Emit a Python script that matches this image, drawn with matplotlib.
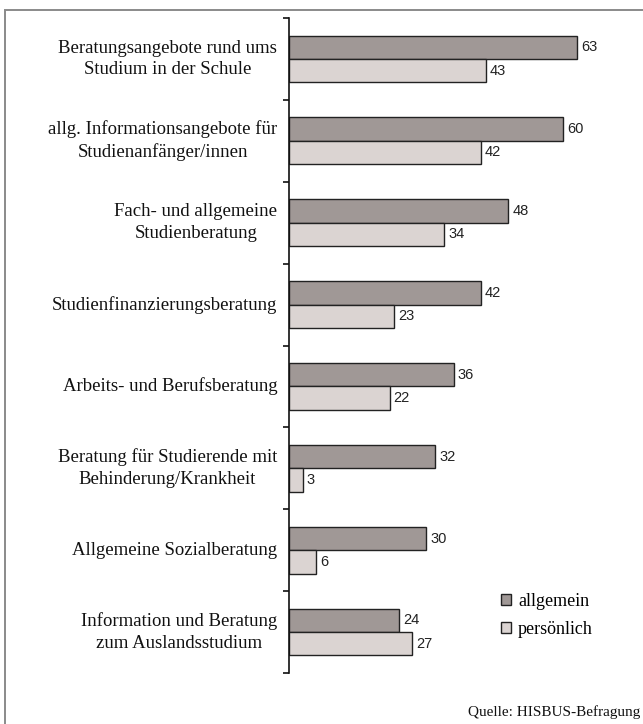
import matplotlib
matplotlib.use("Agg")
import matplotlib.pyplot as plt
from matplotlib.patches import Rectangle, Patch
import numpy as np

categories = [
    "Beratungsangebote rund ums\nStudium in der Schule",
    "allg. Informationsangebote für\nStudienanfänger/innen",
    "Fach- und allgemeine\nStudienberatung",
    "Studienfinanzierungsberatung",
    "Arbeits- und Berufsberatung",
    "Beratung für Studierende mit\nBehinderung/Krankheit",
    "Allgemeine Sozialberatung",
    "Information und Beratung\nzum Auslandsstudium",
]
allgemein = [63, 60, 48, 42, 36, 32, 30, 24]
persoenlich = [43, 42, 34, 23, 22, 3, 6, 27]
series_names = ["allgemein", "persönlich"]
source_text = "Quelle: HISBUS-Befragung"

W, H = 643, 724
fig = plt.figure(figsize=(W / 100, H / 100), dpi=100)
fig.patch.set_facecolor("white")

# outer frame (left/top visible, right/bottom cut)
fig.add_artist(Rectangle((4.5 / W, -0.05), 1.2, 1 - 9.5 / H + 0.05,
                         transform=fig.transFigure, fill=False,
                         edgecolor="#8a8a8a", linewidth=1.4))

ax_left, ax_top, ax_bottom = 289 / W, 18 / H, 673 / H
ax = fig.add_axes([ax_left, 1 - ax_bottom, 1 - ax_left, ax_bottom - ax_top])
px_per_unit = 4.57
ax.set_xlim(0, (W - 289) / px_per_unit)
n = len(categories)
ax.set_ylim(n - 0.5, -0.5)

dark = "#a09896"
light = "#dbd4d2"
bh = 0.285
y = np.arange(n)
ax.barh(y - bh / 2, allgemein, height=bh, color=dark, edgecolor="#222222", linewidth=1.0)
ax.barh(y + bh / 2, persoenlich, height=bh, color=light, edgecolor="#222222", linewidth=1.0)

for yi, v in zip(y, allgemein):
    ax.annotate(str(v), (v, yi - bh / 2), xytext=(3, 0), textcoords="offset points",
                va="center", ha="left", fontsize=10.5, family="Liberation Sans", color="#222222")
for yi, v in zip(y, persoenlich):
    ax.annotate(str(v), (v, yi + bh / 2), xytext=(3, 0), textcoords="offset points",
                va="center", ha="left", fontsize=10.5, family="Liberation Sans", color="#222222")

for yi, c in zip(y, categories):
    ax.annotate(c, (0, yi), xytext=(-8.5, 0), textcoords="offset points",
                ha="right", va="center", multialignment="center",
                fontsize=13.5, family="Liberation Serif", linespacing=1.35, color="#111111")

for s in ["top", "right", "bottom"]:
    ax.spines[s].set_visible(False)
ax.spines["left"].set_color("#111111")
ax.spines["left"].set_linewidth(1.2)
ax.set_xticks([])
ax.set_yticks(np.arange(-0.5, n, 1.0))
ax.set_yticklabels([])
ax.tick_params(axis="y", direction="out", length=4, width=1.2, color="#111111")
ax.patch.set_alpha(0)

handles = [Patch(facecolor=dark, edgecolor="#222222", label=series_names[0]),
           Patch(facecolor=light, edgecolor="#222222", label=series_names[1])]
fig.legend(handles=handles, loc="upper left", bbox_to_anchor=(501 / W, 1 - 593 / H),
           frameon=False, prop={"family": "Liberation Serif", "size": 13},
           handlelength=0.55, handleheight=0.55, handletextpad=0.4, labelspacing=0.62,
           borderpad=0, borderaxespad=0)

fig.text(640 / W, 1 - 712 / H, source_text, ha="right", va="center",
         fontsize=11, family="Liberation Serif", color="#111111")

fig.savefig("out.png", dpi=100)
